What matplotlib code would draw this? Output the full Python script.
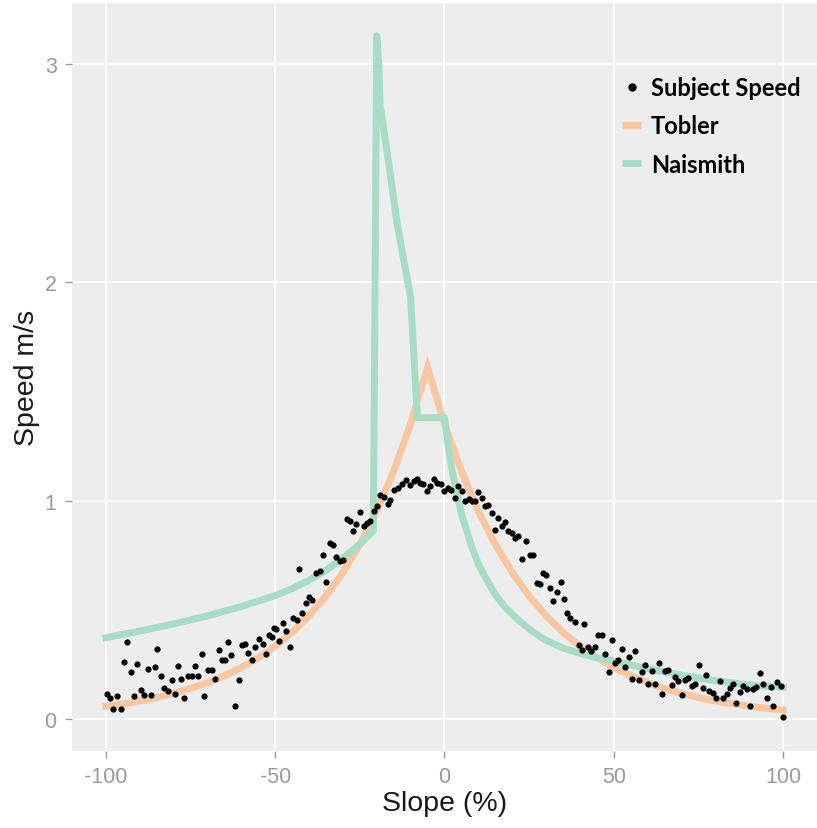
import matplotlib.pyplot as plt
from matplotlib.lines import Line2D

plt.rcParams["axes.unicode_minus"] = False

# observed walking speed per slope bin
subject_slope = [
    -99.6, -98.9, -97.9, -96.7, -95.6, -94.6, -93.7, -92.7, -91.7, -90.7,
    -89.6, -88.6, -87.6, -86.6, -85.6, -84.8, -83.7, -82.7, -81.7, -80.4,
    -79.5, -78.8, -77.8, -76.8, -75.8, -74.6, -73.7, -72.7, -71.7, -70.9,
    -69.9, -68.7, -67.8, -66.7, -65.8, -64.8, -63.9, -62.9, -61.8, -60.8,
    -59.8, -58.9, -57.9, -56.7, -55.9, -54.7, -53.7, -52.8, -51.8, -50.8,
    -50.3, -49.8, -48.8, -47.7, -46.7, -45.7, -44.7, -43.7, -43.0, -42.0,
    -41.0, -40.0, -39.0, -37.8, -36.9, -35.9, -34.9, -33.9, -33.0, -32.0,
    -31.0, -30.0, -28.9, -28.0, -27.0, -26.0, -25.0, -23.8, -22.8, -21.9,
    -20.9, -19.9, -18.9, -18.0, -16.8, -16.0, -14.8, -13.8, -12.5, -11.4,
    -10.1, -9.1, -8.1, -7.2, -6.2, -5.2, -4.2, -3.0, -2.2, -1.1,
    -0.1, 0.9, 2.0, 3.1, 4.1, 5.1, 6.1, 7.1, 8.1, 9.0,
    10.0, 11.0, 12.0, 12.9, 13.9, 14.9, 15.9, 16.9, 17.9, 18.8,
    19.8, 20.8, 21.8, 22.8, 24.0, 25.2, 26.2, 27.2, 28.2, 29.1,
    30.1, 31.1, 32.1, 33.1, 34.3, 35.2, 36.2, 37.2, 38.5, 39.7,
    40.7, 41.1, 42.4, 43.4, 44.4, 45.3, 46.6, 47.5, 48.5, 49.4,
    50.4, 51.2, 52.4, 53.4, 54.4, 55.3, 56.3, 57.3, 58.3, 59.3,
    60.2, 61.2, 62.2, 63.2, 64.2, 65.2, 66.1, 67.1, 68.1, 69.1,
    70.0, 71.0, 72.0, 73.0, 74.0, 75.3, 76.2, 77.2, 78.2, 79.2,
    80.2, 81.3, 82.3, 83.3, 84.3, 85.3, 86.0, 87.2, 88.2, 89.2,
    90.3, 91.1, 92.1, 93.2, 94.2, 95.2, 96.4, 97.1, 98.3, 99.3,
    100.0,
]
subject_speed = [
    0.115, 0.095, 0.046, 0.107, 0.046, 0.261, 0.353, 0.215, 0.107, 0.253,
    0.133, 0.110, 0.227, 0.110, 0.238, 0.319, 0.196, 0.141, 0.130, 0.179,
    0.115, 0.241, 0.184, 0.097, 0.195, 0.196, 0.241, 0.195, 0.296, 0.104,
    0.222, 0.222, 0.181, 0.314, 0.268, 0.268, 0.353, 0.291, 0.058, 0.176,
    0.337, 0.341, 0.304, 0.268, 0.330, 0.365, 0.345, 0.299, 0.383, 0.376,
    0.417, 0.414, 0.356, 0.440, 0.402, 0.330, 0.460, 0.452, 0.687, 0.483,
    0.529, 0.560, 0.544, 0.667, 0.678, 0.752, 0.629, 0.808, 0.798, 0.740,
    0.724, 0.729, 0.916, 0.908, 0.859, 0.893, 0.947, 0.882, 0.897, 0.905,
    0.951, 0.977, 1.028, 1.016, 0.985, 1.005, 1.051, 1.058, 1.077, 1.094,
    1.071, 1.089, 1.097, 1.081, 1.074, 1.043, 1.066, 1.101, 1.081, 1.074,
    1.046, 1.058, 1.050, 1.012, 1.066, 1.043, 1.000, 1.009, 0.997, 0.997,
    1.039, 1.012, 0.974, 0.982, 0.943, 0.867, 0.920, 0.882, 0.902, 0.862,
    0.851, 0.828, 0.836, 0.732, 0.813, 0.752, 0.749, 0.621, 0.617, 0.667,
    0.657, 0.598, 0.540, 0.580, 0.626, 0.549, 0.483, 0.463, 0.442, 0.337,
    0.314, 0.433, 0.330, 0.310, 0.330, 0.383, 0.383, 0.299, 0.215, 0.360,
    0.258, 0.268, 0.318, 0.238, 0.284, 0.184, 0.310, 0.176, 0.215, 0.248,
    0.158, 0.218, 0.161, 0.256, 0.112, 0.220, 0.222, 0.156, 0.192, 0.172,
    0.110, 0.176, 0.187, 0.153, 0.161, 0.245, 0.143, 0.199, 0.126, 0.120,
    0.095, 0.172, 0.097, 0.115, 0.141, 0.161, 0.072, 0.123, 0.153, 0.138,
    0.057, 0.135, 0.146, 0.210, 0.161, 0.095, 0.146, 0.058, 0.169, 0.150,
    0.010,
]

# Tobler hiking function
tobler_slope = [
    -100, -95, -90, -85, -80, -75, -70, -65, -60, -55, -50, -45, -40, -35,
    -30, -25, -20, -15, -10, -5, 0, 5, 10, 15, 20, 25, 30, 35, 40, 45, 50,
    55, 60, 65, 70, 75, 80, 85, 90, 95, 100,
]
tobler_speed = [
    0.058, 0.069, 0.082, 0.098, 0.117, 0.139, 0.166, 0.197, 0.235, 0.280,
    0.333, 0.397, 0.473, 0.563, 0.671, 0.800, 0.952, 1.135, 1.352, 1.610,
    1.352, 1.135, 0.952, 0.800, 0.671, 0.563, 0.473, 0.397, 0.333, 0.280,
    0.235, 0.197, 0.166, 0.139, 0.117, 0.098, 0.082, 0.069, 0.058, 0.049,
    0.041,
]

# Naismith rule (with the odd spike at -20 %)
naismith_slope = [
    -100, -90, -80, -70, -60, -50, -45, -40, -35, -30, -25, -21,
    -20, -19.4, -19.0, -16.5, -14, -10, -8, 0, 1, 2, 3, 4, 5, 6, 8, 10,
    12, 15, 18, 22, 26, 30, 35, 40, 45, 50, 60, 70, 80, 90, 100,
]
naismith_speed = [
    0.372, 0.402, 0.435, 0.472, 0.515, 0.565, 0.597, 0.635, 0.68, 0.737,
    0.80, 0.862, 3.13, 3.0, 2.81, 2.55, 2.27, 1.93, 1.38, 1.38, 1.26,
    1.16, 1.08, 1.01, 0.94, 0.89, 0.79, 0.71, 0.65, 0.57, 0.51, 0.45,
    0.40, 0.36, 0.325, 0.30, 0.28, 0.265, 0.23, 0.20, 0.175, 0.155, 0.145,
]

TOBLER_COL = "#f9c6a2"
NAISMITH_COL = "#a7dcc5"
TICK_COL = "#9a9a9a"

fig = plt.figure(figsize=(8.17, 8.29), dpi=100)
ax = fig.add_axes([0.0881, 0.0929, 0.9119, 0.9023])
ax.set_facecolor("#ededed")
for s in ax.spines.values():
    s.set_visible(False)

ax.grid(True, color="white", linewidth=1.3)
ax.set_axisbelow(True)

ax.plot(tobler_slope, tobler_speed, color=TOBLER_COL, linewidth=5,
        solid_joinstyle="miter", zorder=2)
ax.plot(naismith_slope, naismith_speed, color=NAISMITH_COL, linewidth=5,
        zorder=2.5)
ax.scatter(subject_slope, subject_speed, s=20, color="black", zorder=3,
           linewidths=0)

ax.set_xlim(-110, 110)
ax.set_ylim(-0.147, 3.28)
ax.set_xticks([-100, -50, 0, 50, 100])
ax.set_yticks([0, 1, 2, 3])
ax.tick_params(colors=TICK_COL, labelcolor=TICK_COL, length=5, width=1,
               labelsize=15.5, pad=6)
for lab in ax.get_xticklabels() + ax.get_yticklabels():
    lab.set_family("Liberation Sans")

ax.set_xlabel("Slope (%)", fontsize=20.5, family="Liberation Sans",
              color="#1a1a1a", labelpad=2)
ax.set_ylabel("Speed m/s", fontsize=20.5, family="Liberation Sans",
              color="#1a1a1a", labelpad=3)

handles = [
    Line2D([], [], marker="o", linestyle="none", color="black", markersize=5),
    Line2D([], [], color=TOBLER_COL, linewidth=5, solid_capstyle="butt"),
    Line2D([], [], color=NAISMITH_COL, linewidth=5, solid_capstyle="butt"),
]
ax.legend(handles, ["Subject Speed", "Tobler", "Naismith"], loc="upper left",
          bbox_to_anchor=(0.726, 0.915), frameon=False, handlelength=0.8,
          handletextpad=0.4, labelspacing=0.65, borderaxespad=0,
          prop={"family": "Lato", "weight": "bold", "size": 17})

fig.savefig("out.png", dpi=100)
